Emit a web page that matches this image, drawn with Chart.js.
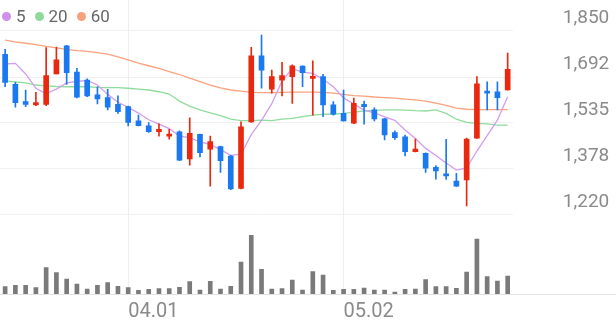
<!DOCTYPE html>
<html><head><meta charset="utf-8">
<script src="https://cdn.jsdelivr.net/npm/chart.js@4"></script>
<style>
html,body{margin:0;padding:0;background:#fff;}
#wrap{position:relative;width:616px;height:321px;}
#legend{position:absolute;left:2px;top:6px;display:flex;align-items:center;font-family:Roboto, sans-serif;font-size:17px;line-height:20px;color:#666;}
.item{display:flex;align-items:center;margin-right:9px;}
.dot{width:9px;height:9px;border-radius:50%;margin-right:5px;}
</style></head><body>
<div id="wrap"><canvas id="c" width="616" height="321"></canvas><div id="legend"></div></div>
<script>
const dates = ['03.14','03.15','03.18','03.19','03.20','03.21','03.22','03.25','03.26','03.27','03.28','03.29',
 '04.01','04.02','04.03','04.04','04.05','04.08','04.09','04.11','04.12','04.15','04.16','04.17','04.18','04.19',
 '04.22','04.23','04.24','04.25','04.26','04.29','04.30','05.02','05.03','05.07','05.08','05.09','05.10','05.13',
 '05.14','05.16','05.17','05.20','05.21','05.22','05.23','05.24','05.27','05.28'];
const shownDates = ['04.01','05.02'];

const openP  = [1770,1667,1608,1597,1599,1703,1799,1709,1682,1631,1622,1599,1591,1542,1525,1505,1490,1505,1412,1496,
                1445,1454,1422,1311,1539,1765,1651,1682,1694,1730,1688,1694,1597,1568,1534,1599,1580,1549,1502,1488,
                1437,1431,1383,1359,1336,1340,1483,1642,1642,1648];
const highP  = [1787,1674,1648,1640,1793,1795,1801,1722,1686,1659,1650,1628,1593,1562,1536,1532,1513,1508,1553,1497,
                1490,1456,1424,1539,1794,1836,1716,1743,1734,1731,1748,1702,1608,1648,1620,1610,1587,1551,1508,1494,
                1480,1433,1389,1479,1363,1483,1694,1676,1676,1774];
const lowP   = [1659,1589,1591,1594,1594,1703,1667,1621,1625,1600,1580,1568,1525,1525,1503,1490,1480,1406,1391,1419,
                1319,1366,1307,1309,1537,1654,1637,1628,1602,1659,1562,1557,1562,1541,1533,1531,1542,1477,1479,1422,
                1436,1366,1343,1342,1318,1251,1482,1580,1580,1647];
const closeP = [1674,1605,1599,1605,1697,1751,1707,1623,1628,1617,1589,1574,1537,1526,1505,1513,1497,1408,1500,1433,
                1471,1406,1309,1522,1765,1716,1694,1697,1731,1707,1694,1597,1565,1542,1602,1591,1549,1494,1485,1437,
                1446,1380,1371,1354,1319,1480,1669,1637,1622,1719];

const ma5  = [1737,1739,1703,1654,1636,1651,1672,1677,1681,1665,1633,1606,1589,1569,1546,1531,1516,1490,1485,1470,
              1462,1444,1424,1428,1495,1544,1601,1679,1721,1709,1705,1685,1659,1621,1600,1579,1570,1556,1544,1511,
              1482,1448,1424,1398,1374,1381,1439,1492,1545,1625];
const ma20 = [1679,1676,1672,1665,1662,1660,1659,1659,1659,1657,1656,1656,1654,1651,1648,1642,1634,1610,1593,1580,
              1570,1560,1548,1543,1543,1545,1543,1548,1551,1557,1562,1565,1565,1568,1572,1576,1578,1580,1580,1579,
              1577,1576,1580,1568,1548,1537,1534,1532,1528,1528];
const ma60 = [1819,1813,1808,1803,1797,1792,1787,1783,1780,1776,1771,1761,1751,1740,1731,1722,1711,1701,1689,1677,
              1665,1655,1648,1644,1640,1639,1639,1640,1641,1641,1641,1640,1637,1633,1629,1627,1624,1622,1620,1617,
              1614,1610,1603,1595,1586,1582,1581,1581,1581,1581];
const volume = [73,87,87,63,263,213,150,100,50,87,113,77,63,37,47,53,53,67,123,40,
                127,50,77,320,587,247,50,53,140,40,223,190,37,47,47,60,40,40,20,47,
                50,143,73,73,57,220,550,173,130,180];

const priceTicks = [1220,1378,1535,1692,1850];
const maNames = ['5','20','60'];
const maColors = ['#d49cf0','#8fdc9c','#f9a27d'];
const legendColors = ['#cf8fea','#8fd99b','#f8a17a'];

const RED = '#e8290f', BLUE = '#1a78f0';
const isUp = i => closeP[i] >= openP[i];
const candleColor = c => isUp(c.dataIndex) ? RED : BLUE;

// legend
const lg = document.getElementById('legend');
maNames.forEach((n, k) => {
  const it = document.createElement('div'); it.className = 'item';
  const d = document.createElement('span'); d.className = 'dot'; d.style.background = legendColors[k];
  const t = document.createElement('span'); t.textContent = n;
  it.appendChild(d); it.appendChild(t); lg.appendChild(it);
});

const baseline = {
  id: 'baseline',
  beforeDatasetsDraw(chart) {
    const {ctx, chartArea} = chart;
    const y = Math.round(chart.scales.yVol.getPixelForValue(0)) + 0.5;
    ctx.save();
    ctx.strokeStyle = '#e2e2e2'; ctx.lineWidth = 1;
    ctx.beginPath(); ctx.moveTo(chartArea.left, y); ctx.lineTo(chart.width, y); ctx.stroke();
    ctx.restore();
  }
};

const maDataset = (k, data, order) => ({
  type: 'line', label: maNames[k], data, borderColor: maColors[k], borderWidth: 1.3,
  pointRadius: 0, tension: 0, yAxisID: 'y', order
});

new Chart(document.getElementById('c'), {
  type: 'bar',
  data: {
    labels: dates,
    datasets: [
      {label: 'body', data: dates.map((d, i) => [openP[i], closeP[i]]), backgroundColor: candleColor,
       barThickness: 5, minBarLength: 2, grouped: false, yAxisID: 'y', order: 0},
      {label: 'wick', data: dates.map((d, i) => [lowP[i], highP[i]]), backgroundColor: candleColor,
       barThickness: 1, grouped: false, yAxisID: 'y', order: 1},
      maDataset(0, ma5, 2),
      maDataset(1, ma20, 3),
      maDataset(2, ma60, 4),
      {label: 'vol', data: volume, backgroundColor: '#7a7a7a', barThickness: 4, grouped: false,
       yAxisID: 'yVol', order: 5}
    ]
  },
  options: {
    responsive: false, animation: false,
    layout: {padding: 0},
    plugins: {legend: {display: false}, tooltip: {enabled: false}},
    scales: {
      x: {
        offset: true,
        grid: {offset: false, drawTicks: false, color: c => (c.tick && c.tick.label) ? '#eeeeee' : 'rgba(0,0,0,0)'},
        border: {display: false},
        ticks: {autoSkip: false, maxRotation: 0, minRotation: 0, align: 'start', padding: 6, color: '#8a8a8a',
                font: {family: 'Roboto', size: 20},
                callback: (v, i) => shownDates.includes(dates[i]) ? dates[i] : ''},
        afterFit: s => { s.height = 27; s.paddingLeft = 0; s.paddingRight = 0; }
      },
      y: {
        position: 'right', min: 949.5, max: 1956.1,
        afterBuildTicks: s => { s.ticks = priceTicks.map(v => ({value: v})); },
        grid: {color: '#f0f0f0', drawTicks: false},
        border: {display: false},
        ticks: {padding: 50, labelOffset: -13, color: '#8a8a8a', font: {family: 'Roboto', size: 19},
                callback: v => Number(v).toLocaleString('en-US')},
        afterFit: s => { s.width = 103.2; s.paddingTop = 0; s.paddingBottom = 0; }
      },
      yVol: {display: false, min: 0, max: 2940}
    }
  },
  plugins: [baseline]
});
</script>
</body></html>
